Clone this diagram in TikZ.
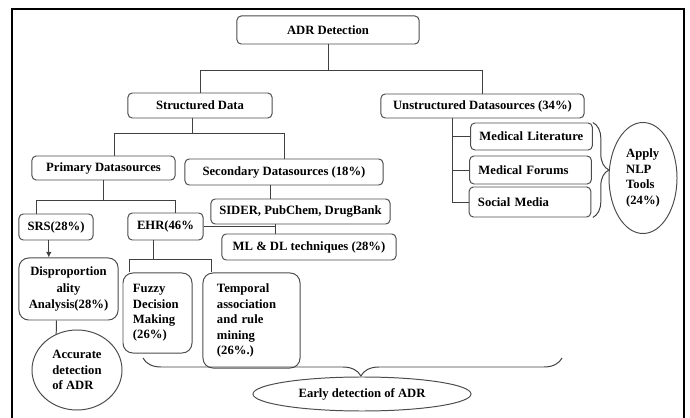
\documentclass[tikz,border=0pt]{standalone}
\usepackage{fontspec}
\setmainfont{Liberation Serif}
\usetikzlibrary{shapes.geometric,decorations.pathreplacing,arrows.meta}

\begin{document}
\begin{tikzpicture}[x = 0.025cm, y = -0.025cm,
  font = \fontsize{9}{11}\selectfont\bfseries,
  box/.style = {draw = black!70, line width = 0.7pt, rounded corners = 3pt, inner sep = 0pt},
  tallbox/.style = {box, rounded corners = 7pt, align = left, inner xsep = 0.25cm},
  itembox/.style = {box, align = left, text width = 2.6cm, inner xsep = 0.22cm},
  oval/.style = {draw = black!70, line width = 0.7pt, ellipse, inner sep = 0pt, align = left},
  link/.style = {draw = black!75, line width = 0.7pt},
  curly/.style = {link, decorate, decoration = {brace, amplitude = #1}}]
  \useasboundingbox (0, 0) rectangle (690, 418);
  \draw[line width = 1pt] (12, 418) -- (12, 9) -- (684, 9) -- (684, 418);

  % tree top
  \node[box, minimum width = 4.55cm, minimum height = 0.7cm] (adr) at (328, 30) {ADR Detection};
  \node[box, minimum width = 3.6cm, minimum height = 0.625cm] (struct) at (200, 105.5) {Structured Data};
  \node[box, minimum width = 5.075cm, minimum height = 0.6cm] (unstruct) at (482.5, 106) {Unstructured Datasources (34\%)};
  \node[box, minimum width = 3.575cm, minimum height = 0.6cm] (primary) at (103.5, 168) {Primary Datasources};
  \node[box, minimum width = 4.95cm, minimum height = 0.65cm] (secondary) at (284, 172) {Secondary Datasources (18\%)};
  \node[box, minimum width = 4.475cm, minimum height = 0.625cm] (sider) at (300.5, 211.5) {SIDER, PubChem, DrugBank};
  \node[box, minimum width = 4.35cm, minimum height = 0.65cm] (mldl) at (309, 247) {ML \& DL techniques (28\%)};
  \node[box, minimum width = 1.85cm, minimum height = 0.65cm] (srs) at (56, 227) {SRS(28\%)};
  \node[box, minimum width = 1.875cm, minimum height = 0.675cm] (ehr) at (165.5, 226.5) {EHR(46\%};

  % leaves
  \node[tallbox, align = center, text width = 2.1cm, inner xsep = 0.19cm, minimum height = 1.55cm] (dispro) at (68.5, 289)
    {Disproportion\\[1pt] ality\\[1pt] Analysis(28\%)};
  \node[tallbox, text width = 1.225cm, minimum height = 2cm] (fuzzy) at (157.5, 313)
    {Fuzzy\\ Decision\\ Making\\ (26\%)};
  \node[tallbox, text width = 1.725cm, inner xsep = 0.35cm, minimum height = 2.375cm] (temporal) at (251.5, 320.5)
    {Temporal\\ association\\ and rule\\ mining\\ (26\%.)};
  \node[itembox, minimum height = 0.675cm] (medlit) at (531.5, 136.5) {Medical Literature};
  \node[itembox, minimum height = 0.7cm] (medfor) at (530.5, 170) {Medical Forums};
  \node[itembox, minimum height = 0.75cm] (social) at (530, 202) {Social Media};

  \node[oval, minimum width = 2.25cm, minimum height = 2cm] (accurate) at (77, 370) {Accurate\\ detection\\ of ADR};
  \node[oval, minimum width = 1.7cm, minimum height = 2.775cm] (nlp) at (643, 178) {Apply\\ NLP\\ Tools\\ (24\%)};
  \node[oval, minimum width = 5.45cm, minimum height = 0.85cm] (early) at (362, 394) {Early detection of ADR};

  % connectors
  \draw[link] (adr.south) -- ++(0, 26) coordinate (b1);
  \draw[link] (struct.north) |- (b1) -| (unstruct.north);
  \draw[link] ([xshift = -0.18cm]struct.south) -- ++(0, 15) coordinate (b2);
  \draw[link] ([xshift = 0.28cm]primary.north) |- (b2) -| (secondary.north);
  \draw[link] ([xshift = -0.35cm]secondary.south) -- ([xshift = -0.35cm]secondary.south |- sider.north);
  \coordinate (j) at (275, 0);
  \draw[link] (ehr.east) -- (ehr.east -| j);
  \draw[link] (sider.south -| j) -- (mldl.north -| j);
  \draw[link] (primary.south) -- ++(0, 20) coordinate (b3);
  \draw[link] ([xshift = -0.48cm]srs.north) |- (b3) -| ([xshift = 0.24cm]ehr.north);
  \draw[link, -{Latex[length = 4pt, width = 4pt]}] ([xshift = -0.18cm]srs.south) -- ([xshift = -0.18cm]srs.south |- dispro.north);
  \draw[link] ([xshift = -0.3cm]dispro.south) -- (accurate.120);
  \draw[link] ([xshift = -0.29cm]ehr.south) -- ++(0, 19) coordinate (b4);
  \draw[link] ([xshift = -0.71cm]fuzzy.north) |- (b4) -| ([xshift = -0.99cm]temporal.north);
  \draw[link] ([xshift = -0.74cm]unstruct.south) |- (medlit.west);
  \draw[link] ([xshift = -0.74cm]unstruct.south) |- (medfor.west);
  \draw[link] ([xshift = -0.74cm]unstruct.south) |- (social.west);

  % braces
  \draw[curly = 0.4cm] (medlit.north east) -- (medlit.north east |- social.south);
  \coordinate (bl) at (143, 358);
  \coordinate (br) at (562, 358);
  \draw[curly = 0.45cm, decoration = {mirror, aspect = 0.52}] (bl) -- (br);
\end{tikzpicture}
\end{document}
